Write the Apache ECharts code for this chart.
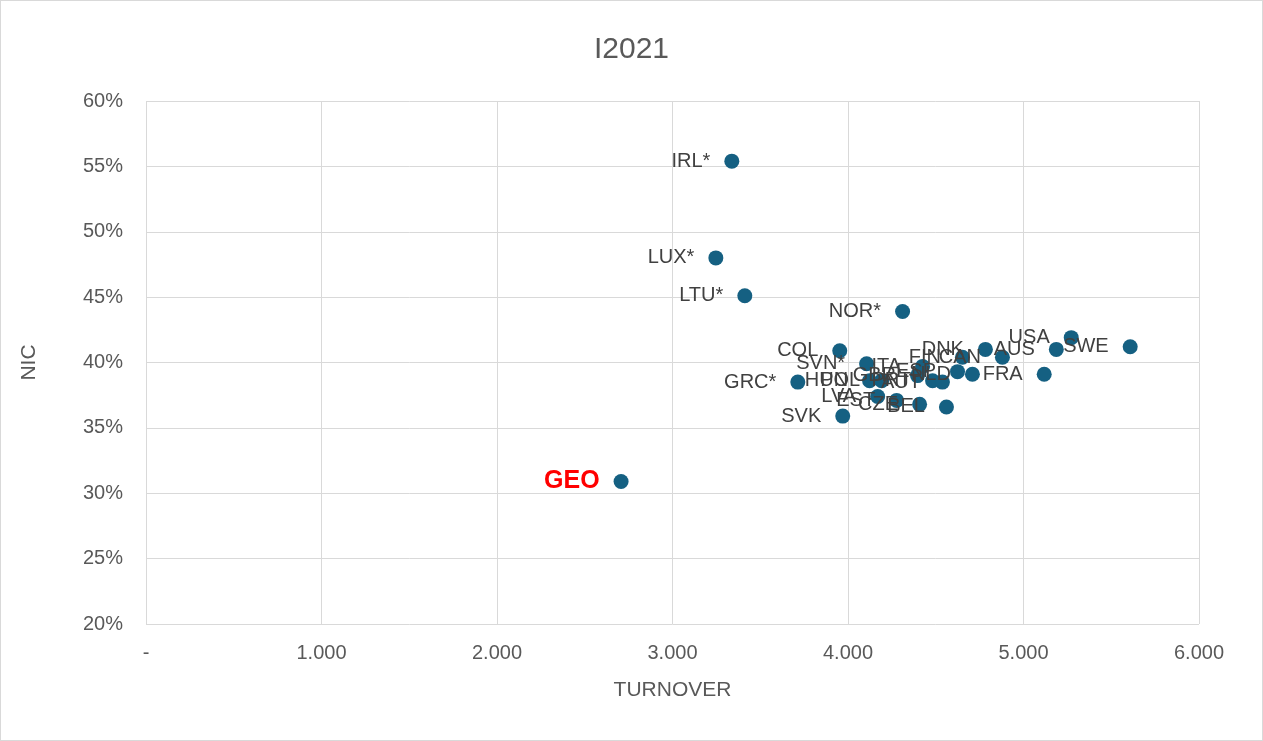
<!DOCTYPE html>
<html>
<head>
<meta charset="utf-8">
<script src="https://cdn.jsdelivr.net/npm/echarts@6/dist/echarts.min.js"></script>
<style>
  html, body { margin: 0; padding: 0; background: #fff; }
  #chart { width: 1263px; height: 741px; border: 1px solid #d9d9d9; box-sizing: border-box; }
</style>
</head>
<body>
<div id="chart"></div>
<script>
// country codes, turnover (x) and NIC in % (y)
var countries = ['IRL*', 'LUX*', 'LTU*', 'NOR*', 'USA', 'SWE', 'AUS', 'DNK', 'COL', 'CAN',
  'FIN', 'SVN*', 'ITA', 'ESP', 'NLD', 'FRA', 'GBR', 'PRT', 'AUT', 'HUN',
  'POL', 'GRC*', 'LVA', 'EST', 'CZE', 'BEL', 'SVK', 'GEO'];
var turnover = [3338, 3247, 3412, 4311, 5272, 5608, 5187, 4783, 3953, 4880,
  4652, 4106, 4425, 4624, 4709, 5118, 4396, 4482, 4538, 4123,
  4192, 3714, 4169, 4277, 4408, 4561, 3970, 2707];
var nic = [55.4, 48.0, 45.1, 43.9, 41.9, 41.2, 41.0, 41.0, 40.9, 40.4,
  40.4, 39.9, 39.7, 39.3, 39.1, 39.1, 39.0, 38.6, 38.5, 38.6,
  38.6, 38.5, 37.4, 37.1, 36.8, 36.6, 35.9, 30.9];
var highlight = 'GEO';

var font = 'Liberation Sans, Arial, sans-serif';
var chart = echarts.init(document.getElementById('chart'));

var points = countries.map(function (c, i) {
  var p = { name: c, value: [turnover[i], nic[i]] };
  if (c === highlight) {
    p.label = { color: '#ff0000', fontWeight: 'bold', fontSize: 25 };
  }
  return p;
});

var option = {
  backgroundColor: '#fff',
  title: {
    text: 'I2021',
    left: 'center',
    top: 29,
    textStyle: { color: '#595959', fontSize: 30, fontWeight: 'normal', fontFamily: font }
  },
  grid: { left: 145, right: 63, top: 100, bottom: 116 },
  xAxis: {
    type: 'value',
    min: 0, max: 6000, interval: 1000,
    name: 'TURNOVER',
    nameLocation: 'middle',
    nameGap: 56,
    nameTextStyle: { color: '#595959', fontSize: 21, fontFamily: font },
    axisLine: { show: false },
    axisTick: { show: false },
    axisLabel: {
      color: '#595959', fontSize: 20, margin: 19, fontFamily: font,
      formatter: function (v) {
        if (v === 0) return '-';
        return (v / 1000).toFixed(3);
      }
    },
    splitLine: { lineStyle: { color: '#d9d9d9', width: 1 } }
  },
  yAxis: {
    type: 'value',
    min: 20, max: 60, interval: 5,
    name: 'NIC',
    nameLocation: 'middle',
    nameGap: 106,
    nameTextStyle: { color: '#595959', fontSize: 21, fontFamily: font },
    axisLine: { show: false },
    axisTick: { show: false },
    axisLabel: {
      color: '#595959', fontSize: 20, margin: 23, fontFamily: font,
      formatter: '{value}%'
    },
    splitLine: { lineStyle: { color: '#d9d9d9', width: 1 } }
  },
  series: [{
    type: 'scatter',
    symbolSize: 15,
    itemStyle: { color: '#156082', opacity: 1 },
    label: {
      show: true,
      position: 'left',
      distance: 14,
      formatter: '{b}',
      color: '#404040',
      fontSize: 20,
      fontFamily: font
    },
    labelLayout: { hideOverlap: false },
    data: points
  }]
};

chart.setOption(option);
</script>
</body>
</html>
